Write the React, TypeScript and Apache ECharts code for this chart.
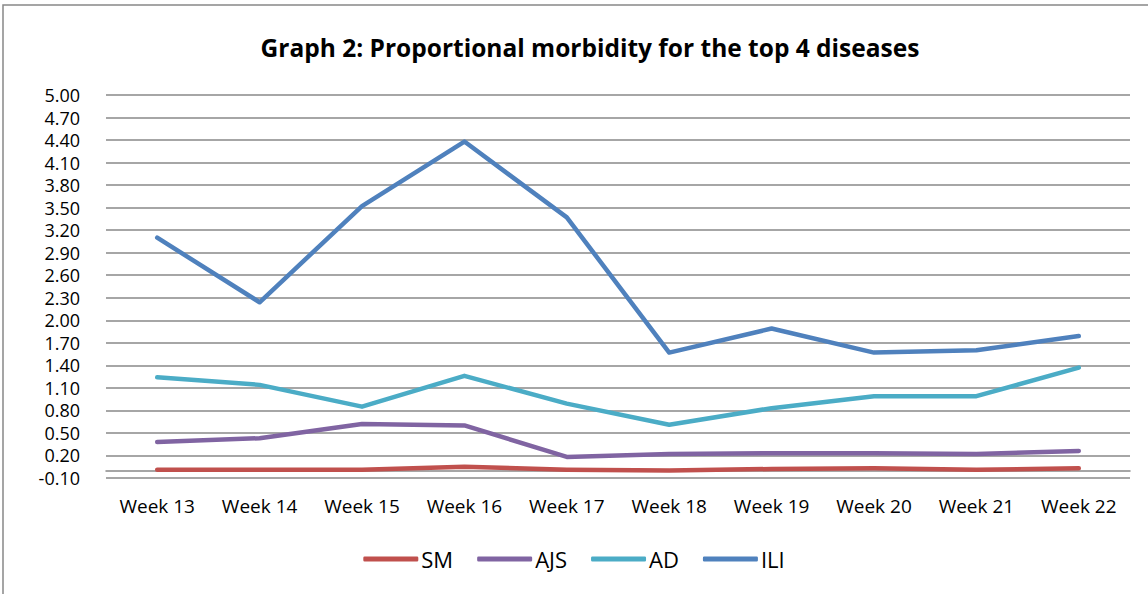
import React, { useEffect, useRef } from "react";
import * as echarts from "echarts";

const categories = ["Week 13", "Week 14", "Week 15", "Week 16", "Week 17", "Week 18", "Week 19", "Week 20", "Week 21", "Week 22"];
const smValues = [0.01, 0.01, 0.01, 0.05, 0.01, 0.0, 0.02, 0.03, 0.01, 0.03];
const ajsValues = [0.38, 0.43, 0.62, 0.6, 0.18, 0.22, 0.23, 0.23, 0.22, 0.26];
const adValues = [1.24, 1.14, 0.85, 1.26, 0.89, 0.61, 0.83, 0.99, 0.99, 1.37];
const iliValues = [3.1, 2.24, 3.52, 4.38, 3.37, 1.57, 1.89, 1.57, 1.6, 1.79];
const seriesNames = ["SM", "AJS", "AD", "ILI"];
const seriesColors = ["#C0504D", "#8064A2", "#4BACC6", "#4F81BD"];

const FONT = "'Open Sans', 'Noto Sans', sans-serif";

export default function App() {
  const ref = useRef<HTMLDivElement>(null);
  useEffect(() => {
    if (!ref.current) return;
    const chart = echarts.init(ref.current, null, { renderer: "svg" });
    const data = [smValues, ajsValues, adValues, iliValues];
    chart.setOption({
      animation: false,
      backgroundColor: "#ffffff",
      title: {
        text: "Graph 2: Proportional morbidity for the top 4 diseases",
        left: 585,
        textAlign: "center",
        top: 30,
        textStyle: { fontFamily: FONT, fontWeight: "bold", fontSize: 24.5, color: "#000" },
      },
      graphic: [
        {
          type: "rect",
          shape: { x: 3, y: 5, width: 1150, height: 600 },
          style: { fill: "none", stroke: "#888888", lineWidth: 1.5 },
          silent: true,
        },
      ],
      legend: {
        data: seriesNames,
        top: 543,
        left: "center",
        itemWidth: 55,
        itemHeight: 5,
        itemGap: 24,
        icon: "roundRect",
        textStyle: { fontFamily: FONT, fontSize: 22, color: "#000", padding: [0, 0, 0, -2] },
      },
      grid: { left: 106, right: 18, top: 95, bottom: 116, containLabel: false },
      xAxis: {
        type: "category",
        data: categories,
        boundaryGap: true,
        axisLine: { onZero: true, lineStyle: { color: "#888888", width: 1.5 } },
        axisTick: { show: false },
        axisLabel: { fontFamily: FONT, fontSize: 19, color: "#000", margin: 18 },
      },
      yAxis: {
        type: "value",
        min: -0.1,
        max: 5.0,
        interval: 0.3,
        axisLine: { show: false },
        axisTick: { show: false },
        splitLine: { lineStyle: { color: "#888888", width: 1.5 } },
        axisLabel: {
          fontFamily: FONT,
          fontSize: 18,
          lineHeight: 18,
          color: "#000",
          margin: 26,
          formatter: (v: number) => v.toFixed(2),
        },
      },
      series: seriesNames.map((name, i) => ({
        name,
        type: "line",
        data: data[i],
        symbol: "none",
        color: seriesColors[i],
        lineStyle: { color: seriesColors[i], width: 4.5, cap: "round", join: "round" },
        z: 2 + i,
      })),
    });
    return () => chart.dispose();
  }, []);
  return (
    <div
      ref={ref}
      style={{ position: "fixed", left: 0, top: 0, width: 1148, height: 594 }}
    />
  );
}
